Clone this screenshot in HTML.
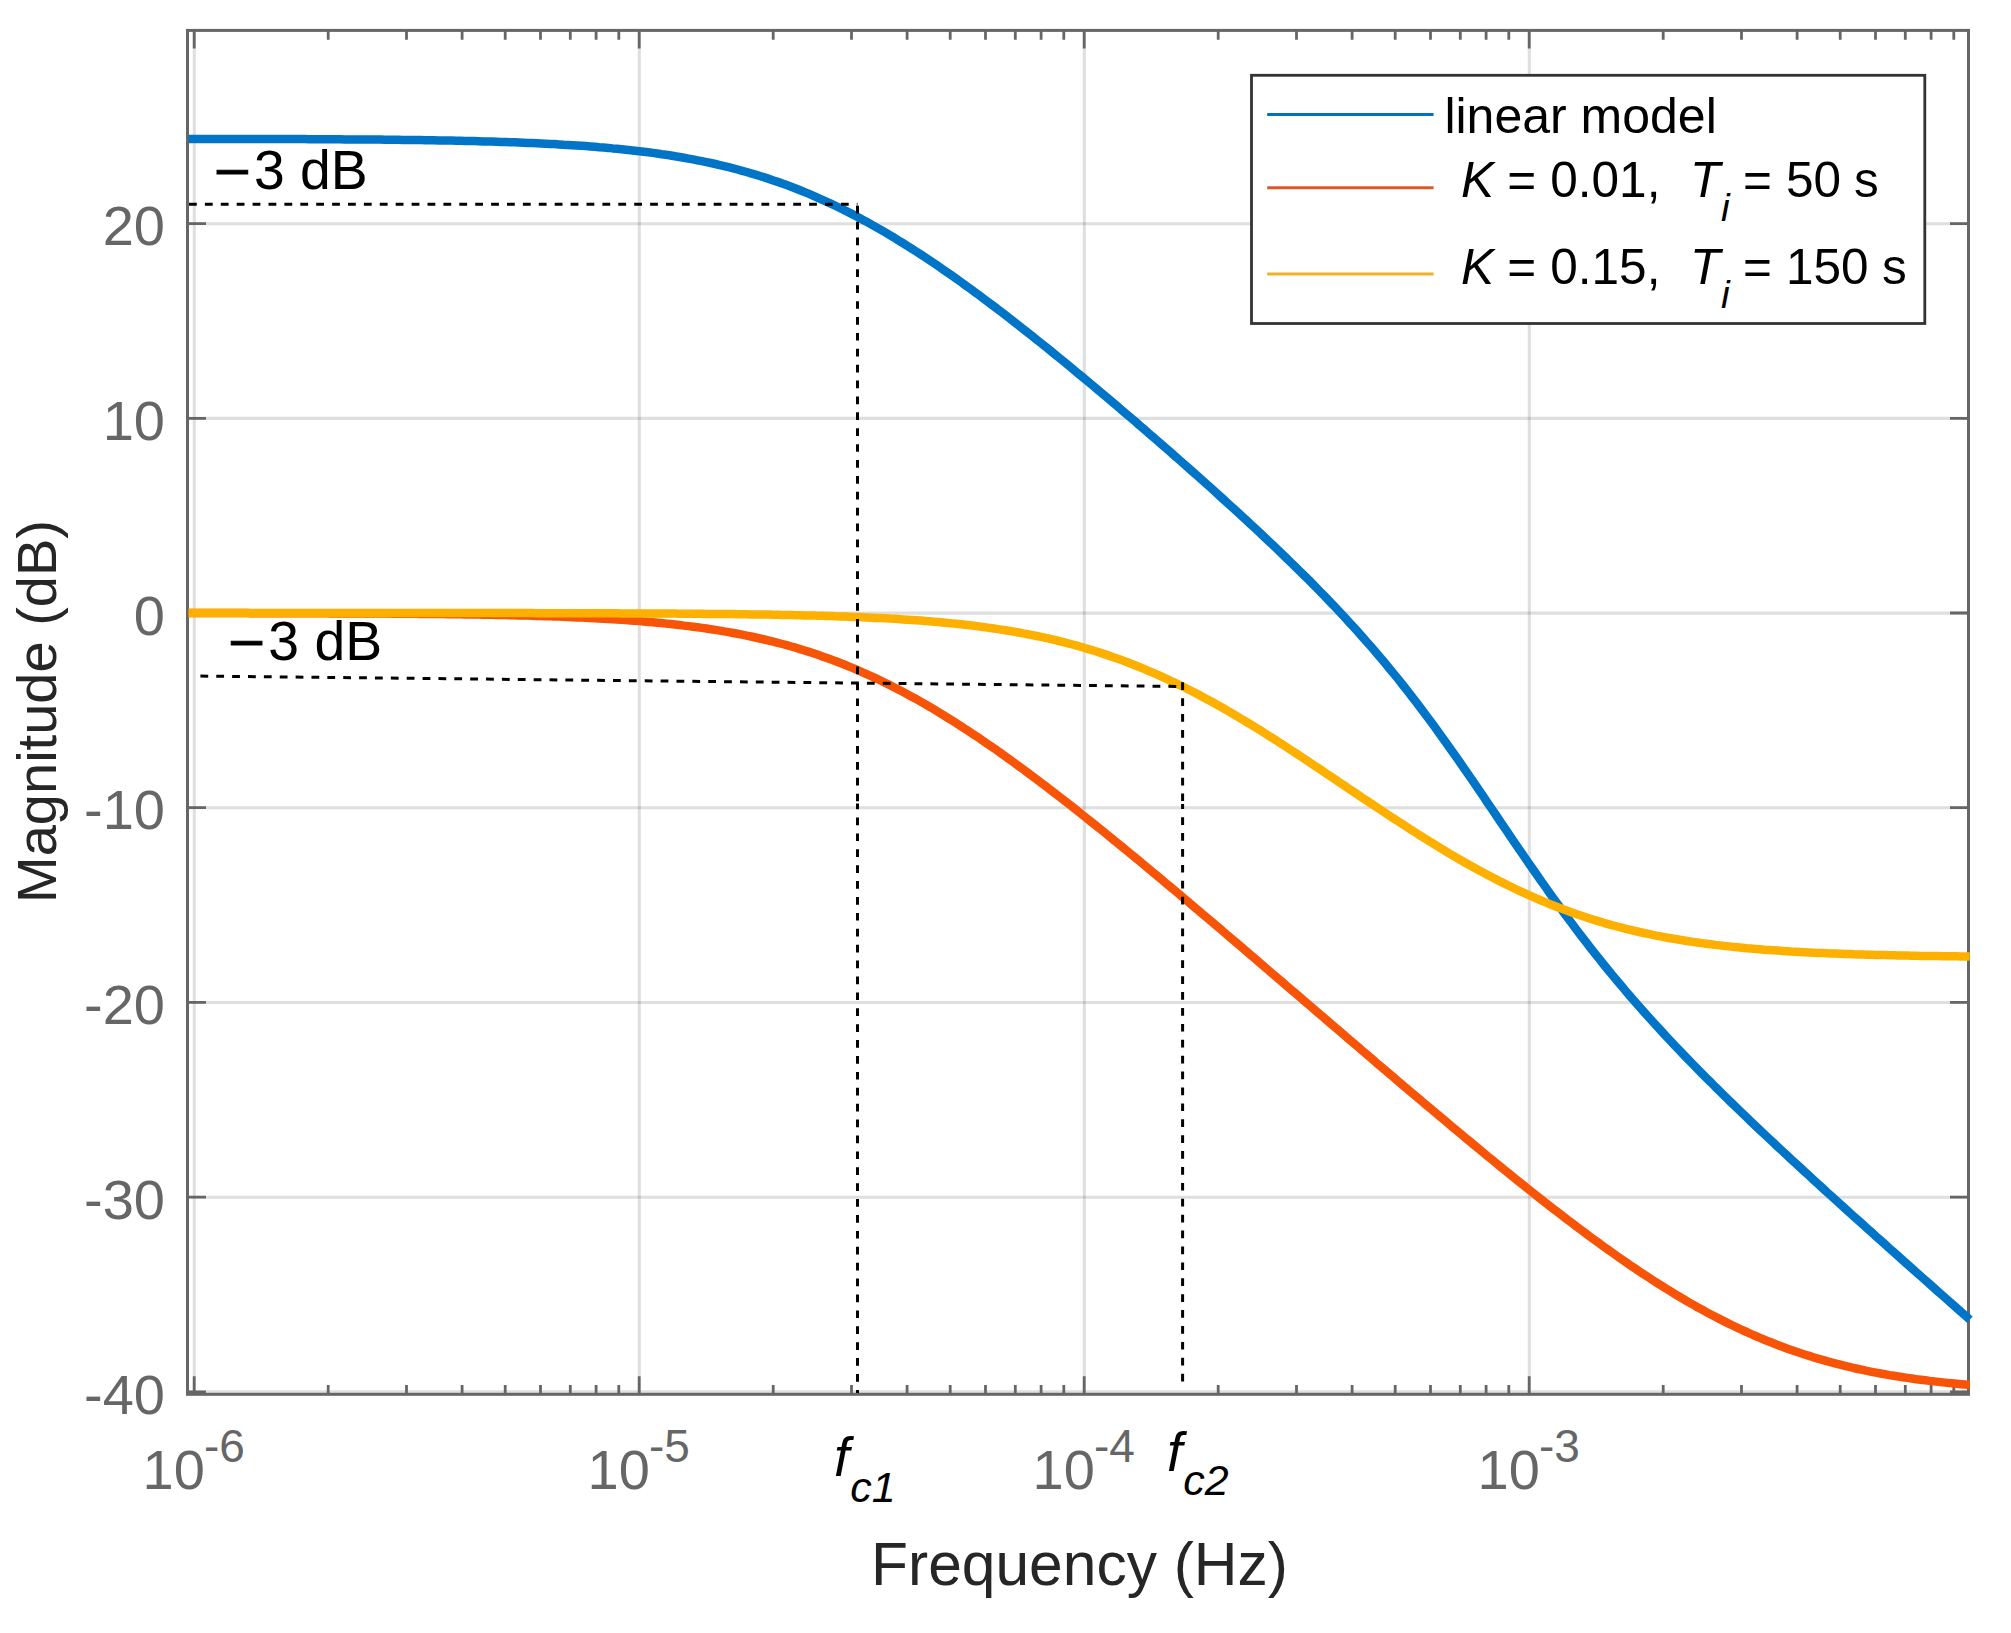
<!DOCTYPE html>
<html lang="en"><head><meta charset="utf-8"><title>Magnitude response</title>
<style>html,body{margin:0;padding:0;background:#fff}svg{display:block}text{font-family:"Liberation Sans",Arial,Helvetica,sans-serif}</style></head><body>
<svg width="2011" height="1633" viewBox="0 0 2011 1633">
<rect width="2011" height="1633" fill="#fff"/>
<path d="M194.3 30.4 V1394.3 M639.3 30.4 V1394.3 M1084.3 30.4 V1394.3 M1529.3 30.4 V1394.3" stroke="#262626" stroke-opacity="0.15" stroke-width="3.1" fill="none"/>
<path d="M187.5 223.7 H1968.5 M187.5 418.4 H1968.5 M187.5 613.1 H1968.5 M187.5 807.8 H1968.5 M187.5 1002.5 H1968.5 M187.5 1197.2 H1968.5 M187.5 1391.9 H1968.5" stroke="#262626" stroke-opacity="0.15" stroke-width="3.1" fill="none"/>
<path d="M194.2 30.4 v18 M194.2 1394.3 v-18 M328.2 30.4 v9.3 M328.2 1394.3 v-9.3 M406.5 30.4 v9.3 M406.5 1394.3 v-9.3 M462.1 30.4 v9.3 M462.1 1394.3 v-9.3 M505.2 30.4 v9.3 M505.2 1394.3 v-9.3 M540.5 30.4 v9.3 M540.5 1394.3 v-9.3 M570.3 30.4 v9.3 M570.3 1394.3 v-9.3 M596.1 30.4 v9.3 M596.1 1394.3 v-9.3 M618.8 30.4 v9.3 M618.8 1394.3 v-9.3 M639.2 30.4 v18 M639.2 1394.3 v-18 M773.2 30.4 v9.3 M773.2 1394.3 v-9.3 M851.5 30.4 v9.3 M851.5 1394.3 v-9.3 M907.1 30.4 v9.3 M907.1 1394.3 v-9.3 M950.2 30.4 v9.3 M950.2 1394.3 v-9.3 M985.5 30.4 v9.3 M985.5 1394.3 v-9.3 M1015.3 30.4 v9.3 M1015.3 1394.3 v-9.3 M1041.1 30.4 v9.3 M1041.1 1394.3 v-9.3 M1063.8 30.4 v9.3 M1063.8 1394.3 v-9.3 M1084.2 30.4 v18 M1084.2 1394.3 v-18 M1218.2 30.4 v9.3 M1218.2 1394.3 v-9.3 M1296.5 30.4 v9.3 M1296.5 1394.3 v-9.3 M1352.1 30.4 v9.3 M1352.1 1394.3 v-9.3 M1395.2 30.4 v9.3 M1395.2 1394.3 v-9.3 M1430.5 30.4 v9.3 M1430.5 1394.3 v-9.3 M1460.3 30.4 v9.3 M1460.3 1394.3 v-9.3 M1486.1 30.4 v9.3 M1486.1 1394.3 v-9.3 M1508.8 30.4 v9.3 M1508.8 1394.3 v-9.3 M1529.2 30.4 v18 M1529.2 1394.3 v-18 M1663.2 30.4 v9.3 M1663.2 1394.3 v-9.3 M1741.5 30.4 v9.3 M1741.5 1394.3 v-9.3 M1797.1 30.4 v9.3 M1797.1 1394.3 v-9.3 M1840.2 30.4 v9.3 M1840.2 1394.3 v-9.3 M1875.5 30.4 v9.3 M1875.5 1394.3 v-9.3 M1905.3 30.4 v9.3 M1905.3 1394.3 v-9.3 M1931.1 30.4 v9.3 M1931.1 1394.3 v-9.3 M1953.8 30.4 v9.3 M1953.8 1394.3 v-9.3 M187.5 223.6 h18.5 M1968.5 223.6 h-18.5 M187.5 418.3 h18.5 M1968.5 418.3 h-18.5 M187.5 613.0 h18.5 M1968.5 613.0 h-18.5 M187.5 807.7 h18.5 M1968.5 807.7 h-18.5 M187.5 1002.4 h18.5 M1968.5 1002.4 h-18.5 M187.5 1197.1 h18.5 M1968.5 1197.1 h-18.5 M187.5 1391.8 h18.5 M1968.5 1391.8 h-18.5" stroke="#666666" stroke-width="2.8" fill="none"/>
<rect x="187.5" y="30.4" width="1781.0" height="1363.8999999999999" fill="none" stroke="#666666" stroke-width="3"/>
<path d="M188.5 138.9 L193.0 138.9 L197.4 138.9 L201.9 138.9 L206.4 138.9 L210.8 138.9 L215.3 138.9 L219.8 138.9 L224.2 138.9 L228.7 138.9 L233.1 138.9 L237.6 138.9 L242.1 138.9 L246.5 139.0 L251.0 139.0 L255.5 139.0 L259.9 139.0 L264.4 139.0 L268.9 139.0 L273.3 139.0 L277.8 139.0 L282.3 139.1 L286.7 139.1 L291.2 139.1 L295.6 139.1 L300.1 139.1 L304.6 139.1 L309.0 139.2 L313.5 139.2 L318.0 139.2 L322.4 139.2 L326.9 139.3 L331.4 139.3 L335.8 139.3 L340.3 139.3 L344.8 139.4 L349.2 139.4 L353.7 139.4 L358.1 139.5 L362.6 139.5 L367.1 139.5 L371.5 139.6 L376.0 139.6 L380.5 139.6 L384.9 139.7 L389.4 139.7 L393.9 139.8 L398.3 139.8 L402.8 139.9 L407.3 139.9 L411.7 140.0 L416.2 140.1 L420.6 140.1 L425.1 140.2 L429.6 140.2 L434.0 140.3 L438.5 140.4 L443.0 140.5 L447.4 140.6 L451.9 140.6 L456.4 140.7 L460.8 140.8 L465.3 140.9 L469.8 141.0 L474.2 141.1 L478.7 141.2 L483.2 141.4 L487.6 141.5 L492.1 141.6 L496.5 141.7 L501.0 141.9 L505.5 142.0 L509.9 142.2 L514.4 142.3 L518.9 142.5 L523.3 142.7 L527.8 142.9 L532.3 143.1 L536.7 143.3 L541.2 143.5 L545.7 143.7 L550.1 143.9 L554.6 144.1 L559.0 144.4 L563.5 144.7 L568.0 144.9 L572.4 145.2 L576.9 145.5 L581.4 145.8 L585.8 146.1 L590.3 146.5 L594.8 146.8 L599.2 147.2 L603.7 147.5 L608.2 147.9 L612.6 148.4 L617.1 148.8 L621.5 149.2 L626.0 149.7 L630.5 150.2 L634.9 150.7 L639.4 151.2 L643.9 151.8 L648.3 152.3 L652.8 152.9 L657.3 153.5 L661.7 154.2 L666.2 154.8 L670.7 155.5 L675.1 156.3 L679.6 157.0 L684.0 157.8 L688.5 158.6 L693.0 159.4 L697.4 160.3 L701.9 161.2 L706.4 162.1 L710.8 163.0 L715.3 164.0 L719.8 165.1 L724.2 166.1 L728.7 167.2 L733.2 168.4 L737.6 169.5 L742.1 170.8 L746.6 172.0 L751.0 173.3 L755.5 174.6 L759.9 176.0 L764.4 177.4 L768.9 178.9 L773.3 180.4 L777.8 181.9 L782.3 183.5 L786.7 185.1 L791.2 186.8 L795.7 188.5 L800.1 190.3 L804.6 192.1 L809.1 193.9 L813.5 195.8 L818.0 197.8 L822.4 199.8 L826.9 201.8 L831.4 203.9 L835.8 206.0 L840.3 208.2 L844.8 210.4 L849.2 212.6 L853.7 214.9 L858.2 217.3 L862.6 219.7 L867.1 222.1 L871.6 224.6 L876.0 227.1 L880.5 229.6 L884.9 232.2 L889.4 234.9 L893.9 237.5 L898.3 240.3 L902.8 243.0 L907.3 245.8 L911.7 248.6 L916.2 251.5 L920.7 254.4 L925.1 257.3 L929.6 260.3 L934.1 263.3 L938.5 266.3 L943.0 269.4 L947.4 272.5 L951.9 275.6 L956.4 278.8 L960.8 281.9 L965.3 285.2 L969.8 288.4 L974.2 291.7 L978.7 294.9 L983.2 298.3 L987.6 301.6 L992.1 305.0 L996.6 308.3 L1001.0 311.7 L1005.5 315.2 L1010.0 318.6 L1014.4 322.1 L1018.9 325.6 L1023.3 329.1 L1027.8 332.6 L1032.3 336.1 L1036.7 339.7 L1041.2 343.3 L1045.7 346.8 L1050.1 350.4 L1054.6 354.1 L1059.1 357.7 L1063.5 361.3 L1068.0 365.0 L1072.5 368.7 L1076.9 372.4 L1081.4 376.1 L1085.8 379.8 L1090.3 383.5 L1094.8 387.2 L1099.2 391.0 L1103.7 394.7 L1108.2 398.5 L1112.6 402.3 L1117.1 406.1 L1121.6 409.9 L1126.0 413.7 L1130.5 417.5 L1135.0 421.3 L1139.4 425.2 L1143.9 429.0 L1148.3 432.9 L1152.8 436.7 L1157.3 440.6 L1161.7 444.5 L1166.2 448.4 L1170.7 452.3 L1175.1 456.2 L1179.6 460.1 L1184.1 464.1 L1188.5 468.0 L1193.0 472.0 L1197.5 475.9 L1201.9 479.9 L1206.4 483.9 L1210.9 487.9 L1215.3 491.9 L1219.8 496.0 L1224.2 500.0 L1228.7 504.1 L1233.2 508.1 L1237.6 512.2 L1242.1 516.3 L1246.6 520.4 L1251.0 524.6 L1255.5 528.7 L1260.0 532.9 L1264.4 537.1 L1268.9 541.3 L1273.4 545.5 L1277.8 549.8 L1282.3 554.1 L1286.7 558.4 L1291.2 562.7 L1295.7 567.1 L1300.1 571.5 L1304.6 575.9 L1309.1 580.3 L1313.5 584.8 L1318.0 589.4 L1322.5 593.9 L1326.9 598.5 L1331.4 603.2 L1335.9 607.9 L1340.3 612.6 L1344.8 617.4 L1349.2 622.3 L1353.7 627.2 L1358.2 632.1 L1362.6 637.1 L1367.1 642.2 L1371.6 647.3 L1376.0 652.5 L1380.5 657.8 L1385.0 663.1 L1389.4 668.5 L1393.9 673.9 L1398.4 679.4 L1402.8 685.0 L1407.3 690.7 L1411.7 696.4 L1416.2 702.2 L1420.7 708.1 L1425.1 714.0 L1429.6 720.0 L1434.1 726.1 L1438.5 732.2 L1443.0 738.4 L1447.5 744.7 L1451.9 751.0 L1456.4 757.3 L1460.9 763.7 L1465.3 770.2 L1469.8 776.6 L1474.3 783.1 L1478.7 789.7 L1483.2 796.2 L1487.6 802.8 L1492.1 809.4 L1496.6 816.0 L1501.0 822.6 L1505.5 829.2 L1510.0 835.8 L1514.4 842.3 L1518.9 848.9 L1523.4 855.4 L1527.8 861.9 L1532.3 868.3 L1536.8 874.7 L1541.2 881.1 L1545.7 887.4 L1550.1 893.7 L1554.6 899.9 L1559.1 906.1 L1563.5 912.2 L1568.0 918.3 L1572.5 924.3 L1576.9 930.2 L1581.4 936.1 L1585.9 941.9 L1590.3 947.6 L1594.8 953.3 L1599.3 958.9 L1603.7 964.5 L1608.2 970.0 L1612.6 975.4 L1617.1 980.8 L1621.6 986.1 L1626.0 991.4 L1630.5 996.6 L1635.0 1001.7 L1639.4 1006.8 L1643.9 1011.9 L1648.4 1016.8 L1652.8 1021.8 L1657.3 1026.7 L1661.8 1031.5 L1666.2 1036.4 L1670.7 1041.1 L1675.1 1045.9 L1679.6 1050.5 L1684.1 1055.2 L1688.5 1059.8 L1693.0 1064.4 L1697.5 1069.0 L1701.9 1073.5 L1706.4 1078.0 L1710.9 1082.4 L1715.3 1086.9 L1719.8 1091.3 L1724.3 1095.7 L1728.7 1100.1 L1733.2 1104.4 L1737.7 1108.7 L1742.1 1113.0 L1746.6 1117.3 L1751.0 1121.6 L1755.5 1125.8 L1760.0 1130.1 L1764.4 1134.3 L1768.9 1138.5 L1773.4 1142.7 L1777.8 1146.8 L1782.3 1151.0 L1786.8 1155.2 L1791.2 1159.3 L1795.7 1163.4 L1800.2 1167.5 L1804.6 1171.6 L1809.1 1175.7 L1813.5 1179.8 L1818.0 1183.9 L1822.5 1188.0 L1826.9 1192.1 L1831.4 1196.1 L1835.9 1200.2 L1840.3 1204.2 L1844.8 1208.2 L1849.3 1212.3 L1853.7 1216.3 L1858.2 1220.3 L1862.7 1224.3 L1867.1 1228.3 L1871.6 1232.3 L1876.0 1236.3 L1880.5 1240.3 L1885.0 1244.3 L1889.4 1248.3 L1893.9 1252.3 L1898.4 1256.3 L1902.8 1260.2 L1907.3 1264.2 L1911.8 1268.2 L1916.2 1272.2 L1920.7 1276.1 L1925.2 1280.1 L1929.6 1284.0 L1934.1 1288.0 L1938.5 1292.0 L1943.0 1295.9 L1947.5 1299.9 L1951.9 1303.8 L1956.4 1307.8 L1960.9 1311.7 L1965.3 1315.6 L1969.8 1319.6" stroke="#0074C6" stroke-width="8.5" fill="none" stroke-linejoin="round"/>
<path d="M188.5 613.1 L193.0 613.1 L197.4 613.1 L201.9 613.1 L206.4 613.1 L210.8 613.1 L215.3 613.1 L219.8 613.1 L224.2 613.1 L228.7 613.1 L233.1 613.1 L237.6 613.1 L242.1 613.1 L246.5 613.1 L251.0 613.2 L255.5 613.2 L259.9 613.2 L264.4 613.2 L268.9 613.2 L273.3 613.2 L277.8 613.2 L282.3 613.2 L286.7 613.2 L291.2 613.2 L295.6 613.2 L300.1 613.3 L304.6 613.3 L309.0 613.3 L313.5 613.3 L318.0 613.3 L322.4 613.3 L326.9 613.3 L331.4 613.4 L335.8 613.4 L340.3 613.4 L344.8 613.4 L349.2 613.4 L353.7 613.4 L358.1 613.5 L362.6 613.5 L367.1 613.5 L371.5 613.5 L376.0 613.6 L380.5 613.6 L384.9 613.6 L389.4 613.6 L393.9 613.7 L398.3 613.7 L402.8 613.7 L407.3 613.8 L411.7 613.8 L416.2 613.8 L420.6 613.9 L425.1 613.9 L429.6 614.0 L434.0 614.0 L438.5 614.1 L443.0 614.1 L447.4 614.2 L451.9 614.2 L456.4 614.3 L460.8 614.3 L465.3 614.4 L469.8 614.5 L474.2 614.5 L478.7 614.6 L483.2 614.7 L487.6 614.8 L492.1 614.8 L496.5 614.9 L501.0 615.0 L505.5 615.1 L509.9 615.2 L514.4 615.3 L518.9 615.4 L523.3 615.5 L527.8 615.6 L532.3 615.8 L536.7 615.9 L541.2 616.0 L545.7 616.2 L550.1 616.3 L554.6 616.5 L559.0 616.6 L563.5 616.8 L568.0 617.0 L572.4 617.2 L576.9 617.4 L581.4 617.6 L585.8 617.8 L590.3 618.0 L594.8 618.2 L599.2 618.4 L603.7 618.7 L608.2 619.0 L612.6 619.2 L617.1 619.5 L621.5 619.8 L626.0 620.1 L630.5 620.4 L634.9 620.8 L639.4 621.1 L643.9 621.5 L648.3 621.9 L652.8 622.3 L657.3 622.7 L661.7 623.1 L666.2 623.6 L670.7 624.0 L675.1 624.5 L679.6 625.0 L684.0 625.6 L688.5 626.1 L693.0 626.7 L697.4 627.3 L701.9 627.9 L706.4 628.5 L710.8 629.2 L715.3 629.9 L719.8 630.6 L724.2 631.4 L728.7 632.1 L733.2 633.0 L737.6 633.8 L742.1 634.7 L746.6 635.6 L751.0 636.5 L755.5 637.5 L759.9 638.5 L764.4 639.5 L768.9 640.6 L773.3 641.7 L777.8 642.8 L782.3 644.0 L786.7 645.2 L791.2 646.5 L795.7 647.7 L800.1 649.1 L804.6 650.5 L809.1 651.9 L813.5 653.3 L818.0 654.8 L822.4 656.4 L826.9 658.0 L831.4 659.6 L835.8 661.3 L840.3 663.0 L844.8 664.8 L849.2 666.6 L853.7 668.4 L858.2 670.4 L862.6 672.3 L867.1 674.3 L871.6 676.3 L876.0 678.4 L880.5 680.5 L884.9 682.7 L889.4 684.9 L893.9 687.2 L898.3 689.5 L902.8 691.8 L907.3 694.2 L911.7 696.7 L916.2 699.1 L920.7 701.6 L925.1 704.2 L929.6 706.8 L934.1 709.4 L938.5 712.1 L943.0 714.8 L947.4 717.6 L951.9 720.4 L956.4 723.2 L960.8 726.1 L965.3 729.0 L969.8 731.9 L974.2 734.9 L978.7 737.8 L983.2 740.9 L987.6 743.9 L992.1 747.0 L996.6 750.1 L1001.0 753.3 L1005.5 756.5 L1010.0 759.7 L1014.4 762.9 L1018.9 766.2 L1023.3 769.4 L1027.8 772.7 L1032.3 776.1 L1036.7 779.4 L1041.2 782.8 L1045.7 786.2 L1050.1 789.6 L1054.6 793.0 L1059.1 796.5 L1063.5 799.9 L1068.0 803.4 L1072.5 806.9 L1076.9 810.4 L1081.4 814.0 L1085.8 817.5 L1090.3 821.1 L1094.8 824.6 L1099.2 828.2 L1103.7 831.8 L1108.2 835.5 L1112.6 839.1 L1117.1 842.7 L1121.6 846.4 L1126.0 850.0 L1130.5 853.7 L1135.0 857.4 L1139.4 861.1 L1143.9 864.8 L1148.3 868.5 L1152.8 872.2 L1157.3 875.9 L1161.7 879.6 L1166.2 883.4 L1170.7 887.1 L1175.1 890.8 L1179.6 894.6 L1184.1 898.4 L1188.5 902.1 L1193.0 905.9 L1197.5 909.7 L1201.9 913.5 L1206.4 917.2 L1210.9 921.0 L1215.3 924.8 L1219.8 928.6 L1224.2 932.4 L1228.7 936.2 L1233.2 940.0 L1237.6 943.8 L1242.1 947.6 L1246.6 951.5 L1251.0 955.3 L1255.5 959.1 L1260.0 962.9 L1264.4 966.7 L1268.9 970.6 L1273.4 974.4 L1277.8 978.2 L1282.3 982.0 L1286.7 985.9 L1291.2 989.7 L1295.7 993.5 L1300.1 997.3 L1304.6 1001.2 L1309.1 1005.0 L1313.5 1008.8 L1318.0 1012.7 L1322.5 1016.5 L1326.9 1020.3 L1331.4 1024.2 L1335.9 1028.0 L1340.3 1031.8 L1344.8 1035.6 L1349.2 1039.5 L1353.7 1043.3 L1358.2 1047.1 L1362.6 1050.9 L1367.1 1054.7 L1371.6 1058.5 L1376.0 1062.4 L1380.5 1066.2 L1385.0 1070.0 L1389.4 1073.8 L1393.9 1077.6 L1398.4 1081.4 L1402.8 1085.2 L1407.3 1089.0 L1411.7 1092.7 L1416.2 1096.5 L1420.7 1100.3 L1425.1 1104.1 L1429.6 1107.8 L1434.1 1111.6 L1438.5 1115.3 L1443.0 1119.1 L1447.5 1122.8 L1451.9 1126.6 L1456.4 1130.3 L1460.9 1134.0 L1465.3 1137.7 L1469.8 1141.4 L1474.3 1145.1 L1478.7 1148.8 L1483.2 1152.5 L1487.6 1156.2 L1492.1 1159.8 L1496.6 1163.5 L1501.0 1167.1 L1505.5 1170.8 L1510.0 1174.4 L1514.4 1178.0 L1518.9 1181.6 L1523.4 1185.1 L1527.8 1188.7 L1532.3 1192.3 L1536.8 1195.8 L1541.2 1199.3 L1545.7 1202.8 L1550.1 1206.3 L1554.6 1209.8 L1559.1 1213.2 L1563.5 1216.6 L1568.0 1220.1 L1572.5 1223.4 L1576.9 1226.8 L1581.4 1230.2 L1585.9 1233.5 L1590.3 1236.8 L1594.8 1240.1 L1599.3 1243.3 L1603.7 1246.6 L1608.2 1249.8 L1612.6 1252.9 L1617.1 1256.1 L1621.6 1259.2 L1626.0 1262.3 L1630.5 1265.4 L1635.0 1268.4 L1639.4 1271.4 L1643.9 1274.4 L1648.4 1277.3 L1652.8 1280.2 L1657.3 1283.1 L1661.8 1285.9 L1666.2 1288.7 L1670.7 1291.4 L1675.1 1294.2 L1679.6 1296.8 L1684.1 1299.5 L1688.5 1302.1 L1693.0 1304.6 L1697.5 1307.2 L1701.9 1309.6 L1706.4 1312.1 L1710.9 1314.5 L1715.3 1316.8 L1719.8 1319.1 L1724.3 1321.4 L1728.7 1323.6 L1733.2 1325.8 L1737.7 1327.9 L1742.1 1330.0 L1746.6 1332.0 L1751.0 1334.0 L1755.5 1336.0 L1760.0 1337.9 L1764.4 1339.7 L1768.9 1341.6 L1773.4 1343.3 L1777.8 1345.1 L1782.3 1346.7 L1786.8 1348.4 L1791.2 1350.0 L1795.7 1351.5 L1800.2 1353.0 L1804.6 1354.5 L1809.1 1355.9 L1813.5 1357.3 L1818.0 1358.6 L1822.5 1359.9 L1826.9 1361.2 L1831.4 1362.4 L1835.9 1363.6 L1840.3 1364.7 L1844.8 1365.8 L1849.3 1366.9 L1853.7 1368.0 L1858.2 1369.0 L1862.7 1369.9 L1867.1 1370.9 L1871.6 1371.8 L1876.0 1372.6 L1880.5 1373.5 L1885.0 1374.3 L1889.4 1375.1 L1893.9 1375.8 L1898.4 1376.5 L1902.8 1377.2 L1907.3 1377.9 L1911.8 1378.5 L1916.2 1379.2 L1920.7 1379.8 L1925.2 1380.3 L1929.6 1380.9 L1934.1 1381.4 L1938.5 1381.9 L1943.0 1382.4 L1947.5 1382.9 L1951.9 1383.3 L1956.4 1383.8 L1960.9 1384.2 L1965.3 1384.6 L1969.8 1385.0" stroke="#F75408" stroke-width="8.5" fill="none" stroke-linejoin="round"/>
<path d="M188.5 613.0 L193.0 613.0 L197.4 613.0 L201.9 613.0 L206.4 613.0 L210.8 613.0 L215.3 613.0 L219.8 613.0 L224.2 613.0 L228.7 613.0 L233.1 613.0 L237.6 613.0 L242.1 613.0 L246.5 613.0 L251.0 613.0 L255.5 613.0 L259.9 613.0 L264.4 613.0 L268.9 613.0 L273.3 613.0 L277.8 613.0 L282.3 613.0 L286.7 613.0 L291.2 613.0 L295.6 613.0 L300.1 613.0 L304.6 613.0 L309.0 613.0 L313.5 613.0 L318.0 613.0 L322.4 613.0 L326.9 613.0 L331.4 613.0 L335.8 613.0 L340.3 613.0 L344.8 613.0 L349.2 613.0 L353.7 613.0 L358.1 613.0 L362.6 613.0 L367.1 613.0 L371.5 613.0 L376.0 613.0 L380.5 613.0 L384.9 613.0 L389.4 613.0 L393.9 613.0 L398.3 613.0 L402.8 613.0 L407.3 613.0 L411.7 613.0 L416.2 613.0 L420.6 613.0 L425.1 613.0 L429.6 613.0 L434.0 613.1 L438.5 613.1 L443.0 613.1 L447.4 613.1 L451.9 613.1 L456.4 613.1 L460.8 613.1 L465.3 613.1 L469.8 613.1 L474.2 613.1 L478.7 613.1 L483.2 613.1 L487.6 613.1 L492.1 613.1 L496.5 613.1 L501.0 613.1 L505.5 613.1 L509.9 613.1 L514.4 613.1 L518.9 613.1 L523.3 613.1 L527.8 613.1 L532.3 613.1 L536.7 613.2 L541.2 613.2 L545.7 613.2 L550.1 613.2 L554.6 613.2 L559.0 613.2 L563.5 613.2 L568.0 613.2 L572.4 613.2 L576.9 613.2 L581.4 613.2 L585.8 613.2 L590.3 613.3 L594.8 613.3 L599.2 613.3 L603.7 613.3 L608.2 613.3 L612.6 613.3 L617.1 613.3 L621.5 613.4 L626.0 613.4 L630.5 613.4 L634.9 613.4 L639.4 613.4 L643.9 613.5 L648.3 613.5 L652.8 613.5 L657.3 613.5 L661.7 613.5 L666.2 613.6 L670.7 613.6 L675.1 613.6 L679.6 613.7 L684.0 613.7 L688.5 613.7 L693.0 613.8 L697.4 613.8 L701.9 613.8 L706.4 613.9 L710.8 613.9 L715.3 613.9 L719.8 614.0 L724.2 614.0 L728.7 614.1 L733.2 614.1 L737.6 614.2 L742.1 614.2 L746.6 614.3 L751.0 614.4 L755.5 614.4 L759.9 614.5 L764.4 614.6 L768.9 614.6 L773.3 614.7 L777.8 614.8 L782.3 614.9 L786.7 615.0 L791.2 615.1 L795.7 615.2 L800.1 615.3 L804.6 615.4 L809.1 615.5 L813.5 615.6 L818.0 615.7 L822.4 615.8 L826.9 616.0 L831.4 616.1 L835.8 616.3 L840.3 616.4 L844.8 616.6 L849.2 616.7 L853.7 616.9 L858.2 617.1 L862.6 617.3 L867.1 617.5 L871.6 617.7 L876.0 617.9 L880.5 618.1 L884.9 618.3 L889.4 618.6 L893.9 618.8 L898.3 619.1 L902.8 619.4 L907.3 619.7 L911.7 620.0 L916.2 620.3 L920.7 620.6 L925.1 621.0 L929.6 621.3 L934.1 621.7 L938.5 622.1 L943.0 622.5 L947.4 622.9 L951.9 623.4 L956.4 623.8 L960.8 624.3 L965.3 624.8 L969.8 625.3 L974.2 625.8 L978.7 626.4 L983.2 627.0 L987.6 627.6 L992.1 628.2 L996.6 628.9 L1001.0 629.6 L1005.5 630.3 L1010.0 631.0 L1014.4 631.7 L1018.9 632.5 L1023.3 633.4 L1027.8 634.2 L1032.3 635.1 L1036.7 636.0 L1041.2 636.9 L1045.7 637.9 L1050.1 638.9 L1054.6 639.9 L1059.1 641.0 L1063.5 642.1 L1068.0 643.3 L1072.5 644.5 L1076.9 645.7 L1081.4 647.0 L1085.8 648.3 L1090.3 649.6 L1094.8 651.0 L1099.2 652.4 L1103.7 653.9 L1108.2 655.4 L1112.6 656.9 L1117.1 658.5 L1121.6 660.1 L1126.0 661.8 L1130.5 663.5 L1135.0 665.2 L1139.4 667.0 L1143.9 668.9 L1148.3 670.8 L1152.8 672.7 L1157.3 674.6 L1161.7 676.6 L1166.2 678.7 L1170.7 680.8 L1175.1 682.9 L1179.6 685.1 L1184.1 687.3 L1188.5 689.5 L1193.0 691.8 L1197.5 694.1 L1201.9 696.5 L1206.4 698.9 L1210.9 701.3 L1215.3 703.8 L1219.8 706.3 L1224.2 708.8 L1228.7 711.4 L1233.2 714.0 L1237.6 716.6 L1242.1 719.3 L1246.6 722.0 L1251.0 724.7 L1255.5 727.4 L1260.0 730.2 L1264.4 733.0 L1268.9 735.8 L1273.4 738.6 L1277.8 741.5 L1282.3 744.4 L1286.7 747.3 L1291.2 750.2 L1295.7 753.1 L1300.1 756.0 L1304.6 759.0 L1309.1 761.9 L1313.5 764.9 L1318.0 767.9 L1322.5 770.9 L1326.9 773.9 L1331.4 776.9 L1335.9 779.9 L1340.3 782.9 L1344.8 785.9 L1349.2 788.9 L1353.7 791.9 L1358.2 794.9 L1362.6 797.9 L1367.1 800.9 L1371.6 803.9 L1376.0 806.8 L1380.5 809.8 L1385.0 812.8 L1389.4 815.7 L1393.9 818.6 L1398.4 821.5 L1402.8 824.4 L1407.3 827.3 L1411.7 830.2 L1416.2 833.0 L1420.7 835.9 L1425.1 838.7 L1429.6 841.4 L1434.1 844.2 L1438.5 846.9 L1443.0 849.6 L1447.5 852.3 L1451.9 855.0 L1456.4 857.6 L1460.9 860.2 L1465.3 862.7 L1469.8 865.2 L1474.3 867.7 L1478.7 870.2 L1483.2 872.6 L1487.6 875.0 L1492.1 877.3 L1496.6 879.6 L1501.0 881.9 L1505.5 884.1 L1510.0 886.3 L1514.4 888.5 L1518.9 890.6 L1523.4 892.7 L1527.8 894.7 L1532.3 896.7 L1536.8 898.6 L1541.2 900.5 L1545.7 902.4 L1550.1 904.2 L1554.6 906.0 L1559.1 907.7 L1563.5 909.4 L1568.0 911.1 L1572.5 912.7 L1576.9 914.2 L1581.4 915.8 L1585.9 917.2 L1590.3 918.7 L1594.8 920.1 L1599.3 921.4 L1603.7 922.8 L1608.2 924.1 L1612.6 925.3 L1617.1 926.5 L1621.6 927.7 L1626.0 928.8 L1630.5 929.9 L1635.0 931.0 L1639.4 932.0 L1643.9 933.0 L1648.4 933.9 L1652.8 934.9 L1657.3 935.8 L1661.8 936.6 L1666.2 937.5 L1670.7 938.3 L1675.1 939.0 L1679.6 939.8 L1684.1 940.5 L1688.5 941.2 L1693.0 941.9 L1697.5 942.5 L1701.9 943.1 L1706.4 943.7 L1710.9 944.3 L1715.3 944.9 L1719.8 945.4 L1724.3 945.9 L1728.7 946.4 L1733.2 946.9 L1737.7 947.3 L1742.1 947.7 L1746.6 948.2 L1751.0 948.5 L1755.5 948.9 L1760.0 949.3 L1764.4 949.7 L1768.9 950.0 L1773.4 950.3 L1777.8 950.6 L1782.3 950.9 L1786.8 951.2 L1791.2 951.5 L1795.7 951.7 L1800.2 952.0 L1804.6 952.2 L1809.1 952.5 L1813.5 952.7 L1818.0 952.9 L1822.5 953.1 L1826.9 953.3 L1831.4 953.5 L1835.9 953.6 L1840.3 953.8 L1844.8 954.0 L1849.3 954.1 L1853.7 954.3 L1858.2 954.4 L1862.7 954.6 L1867.1 954.7 L1871.6 954.8 L1876.0 954.9 L1880.5 955.0 L1885.0 955.1 L1889.4 955.2 L1893.9 955.3 L1898.4 955.4 L1902.8 955.5 L1907.3 955.6 L1911.8 955.7 L1916.2 955.8 L1920.7 955.9 L1925.2 955.9 L1929.6 956.0 L1934.1 956.1 L1938.5 956.1 L1943.0 956.2 L1947.5 956.2 L1951.9 956.3 L1956.4 956.3 L1960.9 956.4 L1965.3 956.4 L1969.8 956.5" stroke="#FDB000" stroke-width="8.5" fill="none" stroke-linejoin="round"/>
<path d="M189 204.2 H857.5" stroke="#000" stroke-width="3" fill="none" stroke-dasharray="7.8 8.1"/>
<path d="M857.5 205.8 V801.2" stroke="#000" stroke-width="3" fill="none" stroke-dasharray="7.7 8.19"/>
<path d="M857.5 803.4 V1393" stroke="#000" stroke-width="3" fill="none" stroke-dasharray="7.7 8.2" stroke-dashoffset="1.8"/>
<path d="M200.4 676.1 L1182.6 686.5" stroke="#000" stroke-width="3" fill="none" stroke-dasharray="7.8 8.07"/>
<path d="M1182.6 682.3 V801" stroke="#000" stroke-width="3" fill="none" stroke-dasharray="7.7 8.2"/>
<path d="M1182.6 804.1 V1386" stroke="#000" stroke-width="3" fill="none" stroke-dasharray="7.7 8.2" stroke-dashoffset="2.8"/>
<text y="188.8" font-size="55.3" fill="#000"><tspan x="216.9" dy="-3" stroke="#000" stroke-width="1">–</tspan><tspan x="254" dy="3">3 dB</tspan></text>
<text y="659.8" font-size="55.3" fill="#000"><tspan x="231.2" dy="-3" stroke="#000" stroke-width="1">–</tspan><tspan x="268.3" dy="3">3 dB</tspan></text>
<text x="165" y="245.3" font-size="56" fill="#666666" text-anchor="end">20</text>
<text x="165" y="440.0" font-size="56" fill="#666666" text-anchor="end">10</text>
<text x="165" y="634.7" font-size="56" fill="#666666" text-anchor="end">0</text>
<text x="165" y="829.4" font-size="56" fill="#666666" text-anchor="end">-10</text>
<text x="165" y="1024.1" font-size="56" fill="#666666" text-anchor="end">-20</text>
<text x="165" y="1218.8" font-size="56" fill="#666666" text-anchor="end">-30</text>
<text x="165" y="1413.5" font-size="56" fill="#666666" text-anchor="end">-40</text>
<text x="142.5" y="1489" font-size="56" fill="#666666">10<tspan font-size="46" dy="-26.8" dx="-0.8">-6</tspan></text>
<text x="587.5" y="1489" font-size="56" fill="#666666">10<tspan font-size="46" dy="-26.8" dx="-0.8">-5</tspan></text>
<text x="1032.5" y="1489" font-size="56" fill="#666666">10<tspan font-size="46" dy="-26.8" dx="-0.8">-4</tspan></text>
<text x="1477.5" y="1489" font-size="56" fill="#666666">10<tspan font-size="46" dy="-26.8" dx="-0.8">-3</tspan></text>
<text x="834" y="1475.7" font-size="55" fill="#000" font-style="italic">f<tspan font-size="43" dy="26" dx="1">c1</tspan></text>
<text x="1167" y="1470.6" font-size="55" fill="#000" font-style="italic">f<tspan font-size="43" dy="24.5" dx="1">c2</tspan></text>
<text x="1079.5" y="1585" font-size="60.5" fill="#262626" text-anchor="middle">Frequency (Hz)</text>
<text transform="translate(55.8 711.5) rotate(-90)" font-size="56" fill="#262626" text-anchor="middle">Magnitude (dB)</text>
<rect x="1251.5" y="75.3" width="673.3" height="248.2" fill="#fff" stroke="#333" stroke-width="2.8"/>
<path d="M1267.2 114.4 H1433.6" stroke="#0072BD" stroke-width="3" fill="none"/>
<path d="M1267.2 187.8 H1433.6" stroke="#E05628" stroke-width="3" fill="none"/>
<path d="M1267.2 274.1 H1433.6" stroke="#EFB02A" stroke-width="3" fill="none"/>
<text x="1444.4" y="133.4" font-size="50" fill="#000">linear model</text>
<text y="196.7" font-size="49.5" fill="#000"><tspan x="1461" font-style="italic">K</tspan><tspan x="1507.3">=</tspan><tspan x="1550.3">0.01,</tspan><tspan x="1690" font-style="italic">T</tspan><tspan font-style="italic" font-size="39" dy="23.8" dx="0.8">i</tspan><tspan x="1743" dy="-23.8">=</tspan><tspan x="1786">50</tspan><tspan x="1854">s</tspan></text>
<text y="284.3" font-size="49.5" fill="#000"><tspan x="1461" font-style="italic">K</tspan><tspan x="1507.3">=</tspan><tspan x="1550.3">0.15,</tspan><tspan x="1690" font-style="italic">T</tspan><tspan font-style="italic" font-size="39" dy="23.8" dx="0.8">i</tspan><tspan x="1743" dy="-23.8">=</tspan><tspan x="1786">150</tspan><tspan x="1882">s</tspan></text>
</svg></body></html>
